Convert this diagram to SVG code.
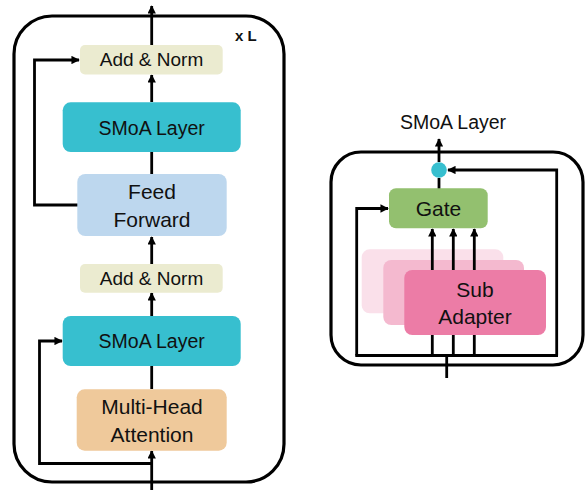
<svg xmlns="http://www.w3.org/2000/svg" width="585" height="490" viewBox="0 0 585 490">
  <defs>
    <marker id="arrow" viewBox="0 0 10 10" refX="9" refY="5" markerWidth="3" markerHeight="3" orient="auto" markerUnits="strokeWidth">
      <path d="M0,0 L10,5 L0,10 z" fill="#000"/>
    </marker>
    <style>
      .frame { fill: none; stroke: #000; stroke-width: 3.2; }
      .wire { fill: none; stroke: #000; stroke-width: 2.8; }
      .label { font-family: "Liberation Sans", Arial, sans-serif; font-size: 19px; fill: #111; text-anchor: middle; }
      .mid { font-size: 19.5px; }
      .big { font-size: 21px; }
      .bold { font-weight: bold; font-size: 15px; text-anchor: start; }
    </style>
  </defs>

  <rect id="block-frame" class="frame" x="14" y="16" width="270" height="466" rx="38"/>
  <rect id="smoa-frame" class="frame" x="331" y="152" width="252" height="213" rx="30"/>

  <!-- connectors drawn first so that boxes cover their ends -->
  <g id="connectors">
    <!-- transformer block -->
    <path class="wire" d="M151.7,45 L151.7,6" marker-end="url(#arrow)"/>
    <path class="wire" d="M151.7,102 L151.7,75" marker-end="url(#arrow)"/>
    <path class="wire" d="M151.7,174 L151.7,152"/>
    <path class="wire" d="M151.7,264 L151.7,237" marker-end="url(#arrow)"/>
    <path class="wire" d="M151.7,316 L151.7,293" marker-end="url(#arrow)"/>
    <path class="wire" d="M151.7,389 L151.7,366"/>
    <path class="wire" d="M151.7,490 L151.7,451" marker-end="url(#arrow)"/>
    <path class="wire" d="M78,205 L34.5,205 L34.5,60 L79,60" marker-end="url(#arrow)"/>
    <path class="wire" d="M151.7,463.5 L39.5,463.5 L39.5,341 L62,341" marker-end="url(#arrow)"/>

    <!-- SMoA layer -->
    <path class="wire" d="M439,162 L439,139" marker-end="url(#arrow)"/>
    <path class="wire" d="M439,189 L439,178"/>
    <path class="wire" d="M556.7,355.5 L556.7,170 L448,170" marker-end="url(#arrow)"/>
    <path class="wire" d="M356.7,355.5 L356.7,208.5 L388,208.5" marker-end="url(#arrow)"/>
    <path class="wire" d="M355.3,355.5 L558,355.5"/>
    <path class="wire" d="M446.7,378 L446.7,355.5"/>
  </g>

  <g id="add-norm-top">
    <rect x="80" y="45" width="142.7" height="29.5" rx="5" fill="#EBEBD0"/>
    <text class="label" x="151.5" y="66">Add &amp; Norm</text>
  </g>
  <g id="smoa-layer-top">
    <rect x="62.7" y="102.3" width="178" height="49.7" rx="8" fill="#37BFCF"/>
    <text class="label mid" x="151.7" y="134.5">SMoA Layer</text>
  </g>
  <g id="feed-forward">
    <rect x="77.3" y="174" width="149.4" height="62" rx="8" fill="#BDD7EE"/>
    <text class="label big" x="152" y="199">Feed</text>
    <text class="label big" x="152" y="227">Forward</text>
  </g>
  <g id="add-norm-bottom">
    <rect x="80" y="264" width="142.7" height="28.7" rx="5" fill="#EBEBD0"/>
    <text class="label" x="151.5" y="285">Add &amp; Norm</text>
  </g>
  <g id="smoa-layer-bottom">
    <rect x="62.7" y="316" width="178" height="50" rx="8" fill="#37BFCF"/>
    <text class="label mid" x="151.7" y="348">SMoA Layer</text>
  </g>
  <g id="multi-head-attention">
    <rect x="76.7" y="389.3" width="150" height="61.4" rx="8" fill="#EFC99B"/>
    <text class="label big" x="152" y="414">Multi-Head</text>
    <text class="label big" x="152" y="442">Attention</text>
  </g>
  <text id="repeat-label" class="label bold" x="235" y="41">x L</text>

  <!-- SMoA layer detail -->
  <text id="smoa-title" class="label mid" x="453" y="128.5">SMoA Layer</text>
  <g id="sub-adapter-back">
    <rect x="361.7" y="249.3" width="141.6" height="64" rx="8" fill="#FAE0EA"/>
  </g>
  <g id="sub-adapter-middle">
    <rect x="383.3" y="260" width="140.7" height="65" rx="8" fill="#F4B9CF"/>
  </g>
  <g id="adapter-outputs">
    <path class="wire" d="M432.3,355.5 L432.3,229" marker-end="url(#arrow)"/>
    <path class="wire" d="M453.3,355.5 L453.3,229" marker-end="url(#arrow)"/>
    <path class="wire" d="M474.3,355.5 L474.3,229" marker-end="url(#arrow)"/>
  </g>
  <g id="sub-adapter">
    <rect x="404.3" y="270" width="141.7" height="65" rx="8" fill="#EC7CA6"/>
    <text class="label big" x="475" y="297">Sub</text>
    <text class="label big" x="475" y="324">Adapter</text>
  </g>
  <g id="gate">
    <rect x="389" y="188.3" width="98.7" height="40" rx="7" fill="#93C06F"/>
    <text class="label big" x="438.5" y="215.5">Gate</text>
  </g>
  <g id="mix-node">
    <circle cx="439" cy="170" r="7.8" fill="#37BFCF"/>
  </g>
</svg>
